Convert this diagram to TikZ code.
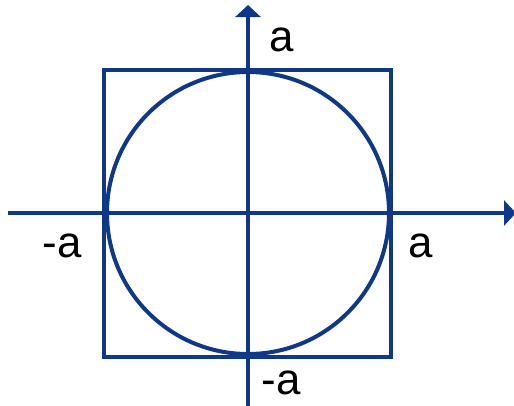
\documentclass[tikz,border=0pt]{standalone}
\usepackage{fontspec}
\setmainfont{Liberation Sans}
\usetikzlibrary{arrows.meta,positioning}
\definecolor{navy}{RGB}{16,56,136}

\begin{document}
\begin{tikzpicture}[
  x=1bp,y=-1bp,
  axis/.style={-{Triangle[width=25bp,length=12bp]},line width=4bp,navy},
  outline/.style={line width=4bp,navy},
  lbl/.style={font=\fontsize{44}{44}\selectfont,inner sep=0pt}
]
\useasboundingbox (0,0) rectangle (514,405);
% centre and axis ends
\coordinate (O) at (248,213);
\coordinate (xl) at (8,213);
\coordinate (xr) at (516,213);
\coordinate (yb) at (248,407);
\coordinate (yt) at (248,5);
% square corners
\coordinate (sqa) at (104,70);
\coordinate (sqb) at (391,357);
% square and circle
\draw[outline] (sqa) rectangle (sqb);
\draw[outline] (O) circle[radius=141bp];
% axes
\draw[axis] (xl) -- (xr);
\draw[axis] (yb) -- (yt);
% labels
\node[lbl] (atop) at (282,40) {a};
\node[lbl] (aright) at (421,246) {a};
\node[lbl] (aleft) at (62,246) {-a};
\node[lbl] (abot) at (281,383) {-a};
\end{tikzpicture}
\end{document}
